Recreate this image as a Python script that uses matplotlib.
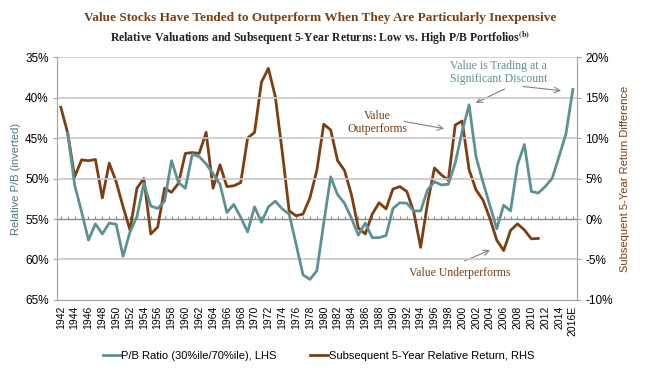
import numpy as np
import matplotlib
matplotlib.use("Agg")
import matplotlib.pyplot as plt

plt.rcParams['font.family'] = ['Liberation Sans', 'DejaVu Sans']
plt.rcParams['mathtext.fontset'] = 'stix'

years = list(range(1942, 2017))
tick_labels = [str(y) for y in range(1942, 2016, 2)] + ['2016E']

# LHS: relative P/B (inverted), % ; starts 1943
pb_ratio = [np.nan,
            44.4, 50.8, 54.1, 57.6, 55.6, 56.85, 55.5, 55.65, 59.6, 56.6,
            54.7, 50.6, 53.4, 53.7, 52.8, 47.8, 50.5, 51.2, 47.0, 47.3,
            48.2, 49.4, 50.7, 54.2, 53.2, 54.8, 56.6, 53.5, 55.4, 53.5,
            52.8, 53.75, 54.4, 58.1, 61.9, 62.45, 61.4, 55.5, 49.8, 52.0,
            53.05, 54.9, 57.0, 55.5, 57.3, 57.3, 57.05, 53.7, 53.0, 53.05,
            54.0, 54.0, 51.4, 50.4, 50.8, 50.7, 48.1, 44.2, 40.9, 47.3,
            50.4, 53.3, 56.2, 53.3, 54.0, 48.3, 45.8, 51.6, 51.8, 51.0,
            50.0, 47.3, 44.5, 39.0]

# RHS: subsequent 5-year relative return, % ; ends 2011
rel_return = [13.8, 10.6, 5.2, 7.3, 7.2, 7.35, 2.6, 6.9, 4.6, 1.5,
              -1.35, 3.8, 5.0, -1.85, -1.0, 3.8, 3.3, 4.4, 8.1, 8.2,
              8.1, 10.7, 3.8, 6.7, 4.0, 4.1, 4.5, 10.0, 10.7, 16.9,
              18.6, 15.1, 8.3, 1.0, 0.4, 0.6, 2.6, 6.0, 11.7, 11.0,
              7.2, 6.0, 3.0, -1.1, -1.85, 0.6, 2.0, 1.25, 3.7, 4.0,
              3.4, 0.9, -3.5, 1.95, 6.3, 5.45, 4.8, 11.6, 12.1, 6.1,
              3.6, 2.35, 0.1, -2.6, -3.9, -1.4, -0.6, -1.35, -2.45, -2.4]
rel_return += [np.nan] * (len(years) - len(rel_return))

teal = '#5e9194'
brown = '#7b3f12'
grid_c = '#c8c8c8'
axis_c = '#a6a6a6'

fig = plt.figure(figsize=(6.5, 3.69), dpi=100)
ax = fig.add_axes([0.0877, 0.187, 0.8, 0.6585])
ax2 = ax.twinx()

ax.set_xlim(1941.45, 2016.6)
ax.set_ylim(65, 35)
ax2.set_ylim(-10, 20)

for v in [35, 40, 45, 50, 60]:
    ax.axhline(v, color=grid_c, lw=1.2, zorder=0)
ax2.axhline(0, color='#8c8c8c', lw=1.0, zorder=1)
ax2.vlines(years, 0, 0.35, color='#8c8c8c', lw=0.8, zorder=1)

ax.plot(years, pb_ratio, color=teal, lw=2.0, zorder=3,
        label='P/B Ratio (30%ile/70%ile), LHS')
ax2.plot(years, rel_return, color=brown, lw=2.0, zorder=3,
         label='Subsequent 5-Year Relative Return, RHS')

ax.set_zorder(ax2.get_zorder() + 1)
ax.patch.set_visible(False)

ax.set_yticks([35, 40, 45, 50, 55, 60, 65])
ax.set_yticklabels([f'{v}%' for v in [35, 40, 45, 50, 55, 60, 65]], fontsize=8.5)
ax2.set_yticks([20, 15, 10, 5, 0, -5, -10])
ax2.set_yticklabels([f'{v}%' for v in [20, 15, 10, 5, 0, -5, -10]], fontsize=8.5)
ax.set_xticks(list(range(1942, 2017, 2)))
ax.set_xticklabels(tick_labels, rotation=90, fontsize=7.5)
ax.tick_params(axis='x', length=0, pad=4)
ax.tick_params(axis='y', length=3, color=axis_c, pad=3)
ax2.tick_params(axis='y', length=3, color=axis_c, pad=3)

for a in (ax, ax2):
    for s in a.spines.values():
        s.set_color(axis_c)
    a.spines['top'].set_visible(False)

ax.set_ylabel('Relative P/B (inverted)', color='#4d7680', fontsize=8, labelpad=3)
ax2.set_ylabel('Subsequent 5-Year Return Difference', color=brown, fontsize=8, labelpad=5)

serif = ['Liberation Serif', 'DejaVu Serif']
fig.text(0.493, 0.952, 'Value Stocks Have Tended to Outperform When They Are Particularly Inexpensive',
         ha='center', va='center', color=brown, fontsize=9.5, family=serif, fontweight='bold')
fig.text(0.493, 0.895, 'Relative Valuations and Subsequent 5-Year Returns: Low vs. High P/B Portfolios$^{\\mathbf{(b)}}$',
         ha='center', va='center', color='#222222', fontsize=8.5, family=serif, fontweight='bold')

arrow = dict(arrowstyle='->', color='#808080', lw=0.8)
ax2.text(2005.3, 18.1, 'Value is Trading at a\nSignificant Discount', ha='center', va='center',
         color=teal, fontsize=8.5, family=serif, linespacing=1.15)
ax2.annotate('', xy=(2001.6, 14.2), xytext=(2006.5, 16.2), arrowprops=arrow)
ax2.annotate('', xy=(2014.7, 15.8), xytext=(2008.4, 16.4), arrowprops=arrow)
ax2.text(1987.7, 11.9, 'Value\nOutperforms', ha='center', va='center',
         color=brown, fontsize=8.5, family=serif, linespacing=1.15)
ax2.annotate('', xy=(1997.8, 11.1), xytext=(1991.2, 12.1), arrowprops=arrow)
ax2.text(1999.7, -6.7, 'Value Underperforms', ha='center', va='center',
         color=brown, fontsize=8.5, family=serif)
ax2.annotate('', xy=(2004.4, -3.7), xytext=(2000.0, -5.3), arrowprops=arrow)

h1, l1 = ax.get_legend_handles_labels()
h2, l2 = ax2.get_legend_handles_labels()
fig.legend(h1 + h2, l1 + l2, loc='center', bbox_to_anchor=(0.49, 0.035), ncol=2,
           frameon=False, fontsize=8, handlelength=1.6, handletextpad=0.1,
           columnspacing=3.0)

fig.savefig('out.png', dpi=100)
